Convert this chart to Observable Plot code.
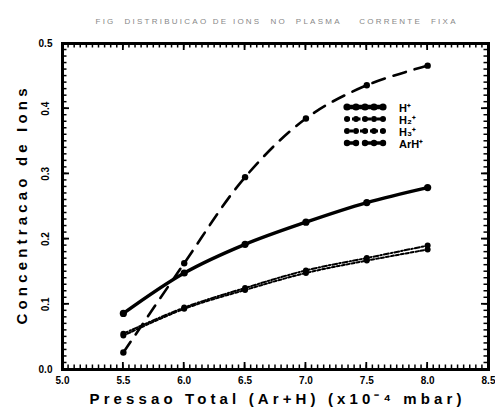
<!DOCTYPE html>
<html>
<head>
<meta charset="utf-8">
<script src="https://cdn.jsdelivr.net/npm/d3@7"></script>
<script src="https://cdn.jsdelivr.net/npm/@observablehq/plot@0.6"></script>
<style>
  html, body { margin: 0; padding: 0; background: #fff; }
  #wrap { position: relative; width: 495px; height: 414px; }
  #legend { position: absolute; left: 343px; top: 101px; font: bold 11px "Liberation Sans", Arial, sans-serif; }
</style>
</head>
<body>
<div id="wrap"></div>
<script>
// Pressure (x10^-4 mbar)
const pressure = [5.5, 6.0, 6.5, 7.0, 7.5, 8.0];
// Ion concentrations per series
const ionH1 = [0.086, 0.148, 0.192, 0.226, 0.256, 0.279];
const ionH2 = [0.055, 0.095, 0.125, 0.152, 0.171, 0.190];
const ionH3 = [0.052, 0.093, 0.122, 0.148, 0.167, 0.184];
const ionH4 = [0.026, 0.163, 0.295, 0.385, 0.436, 0.466];
const seriesNames = ["H\u207A", "H\u2082\u207A", "H\u2083\u207A", "ArH\u207A"];
const xTicks = [5.0, 5.5, 6.0, 6.5, 7.0, 7.5, 8.0, 8.5];
const yTicks = [0.0, 0.1, 0.2, 0.3, 0.4, 0.5];
const titleText = "FIG  DISTRIBUICAO DE IONS  NO  PLASMA    CORRENTE  FIXA";
const xLabel = "Pressao Total (Ar+H) (x10\u207B\u2074 mbar)";
const yLabel = "Concentracao de Ions";

const styles = [
  {stroke: 3.4, dash: null, r: 3.6},
  {stroke: 2, dash: "5,2,1.5,2", r: 3},
  {stroke: 2, dash: "3,2", r: 3},
  {stroke: 2.6, dash: "13,9", r: 3.2}
];
const allSeries = [ionH1, ionH2, ionH3, ionH4];
const rows = allSeries.flatMap((vals, si) => vals.map((v, i) => ({x: pressure[i], y: v, s: si})));

const minorX = d3.range(0, 71).map(i => +(5 + i * 0.05).toFixed(3));
const minorY = d3.range(0, 51).map(i => +(i * 0.01).toFixed(3));

const font = "Liberation Sans, Arial, sans-serif";
const marks = [];
allSeries.forEach((vals, si) => {
  const st = styles[si];
  const data = rows.filter(d => d.s === si);
  marks.push(Plot.line(data, {x: "x", y: "y", stroke: "black", strokeWidth: st.stroke, strokeDasharray: st.dash, curve: "catmull-rom"}));
  marks.push(Plot.dot(data, {x: "x", y: "y", r: st.r, fill: "black"}));
});

const chart = Plot.plot({
  width: 495,
  height: 414,
  marginLeft: 62,
  marginRight: 7,
  marginTop: 43,
  marginBottom: 45,
  style: {fontFamily: font, background: "white"},
  x: {domain: [5, 8.5], axis: null},
  y: {domain: [0, 0.5], axis: null},
  marks: [
    ...marks,
    Plot.text(xTicks, {x: d => d, frameAnchor: "bottom", dy: 14, text: d => d.toFixed(1), fontSize: 10, fontWeight: "bold", fill: "black", textAnchor: "middle"}),
    Plot.text(yTicks, {y: d => d, frameAnchor: "left", dx: -17, text: d => d.toFixed(1), fontSize: 10, fontWeight: "bold", fill: "black", textAnchor: "middle",
      rotate: d => (d === 0 || d === 0.5) ? 0 : -90}),
    Plot.frame({stroke: "black", strokeWidth: 3}),
    Plot.text([xLabel], {frameAnchor: "bottom", dy: 34, text: d => d, fontSize: 15, fontWeight: "bold", fill: "black", textAnchor: "middle", className: "xlab"}),
    Plot.text([yLabel], {frameAnchor: "left", dx: -40, rotate: -90, text: d => d, fontSize: 15, fontWeight: "bold", fill: "black", textAnchor: "middle", className: "ylab"}),
    Plot.text([titleText], {frameAnchor: "top", dy: -25, text: d => d, fontSize: 8, fill: "#888", textAnchor: "middle", className: "ttl"})
  ]
});

document.getElementById("wrap").appendChild(chart);

// inward ticks on all four sides, placed with Plot's own scales
const sx = chart.scale("x"), sy = chart.scale("y");
const X0 = sx.apply(5), X1 = sx.apply(8.5), Y0 = sy.apply(0), Y1 = sy.apply(0.5);
const g = d3.select(chart).append("g").attr("stroke", "black");
const addX = (vals, len, w) => vals.forEach(v => {
  const px = sx.apply(v);
  g.append("line").attr("x1", px).attr("x2", px).attr("y1", Y0).attr("y2", Y0 - len).attr("stroke-width", w);
  g.append("line").attr("x1", px).attr("x2", px).attr("y1", Y1).attr("y2", Y1 + len).attr("stroke-width", w);
});
const addY = (vals, len, w) => vals.forEach(v => {
  const py = sy.apply(v);
  g.append("line").attr("y1", py).attr("y2", py).attr("x1", X0).attr("x2", X0 + len).attr("stroke-width", w);
  g.append("line").attr("y1", py).attr("y2", py).attr("x1", X1).attr("x2", X1 - len).attr("stroke-width", w);
});
addX(minorX, 4.5, 1.5);
addX(xTicks, 7, 1.8);
addY(minorY, 4.5, 1.5);
addY(yTicks, 7, 1.8);

// stretch labels to the reference span
d3.select(chart).select(".xlab text").attr("textLength", 372).attr("lengthAdjust", "spacing");
d3.select(chart).select(".ylab text").attr("textLength", 236).attr("lengthAdjust", "spacing");
d3.select(chart).select(".ttl text").attr("textLength", 360).attr("lengthAdjust", "spacing");

// Legend (HTML overlay)
const legend = document.createElement("div");
legend.id = "legend";
const rowH = 12;
let html = "";
styles.forEach((st, i) => {
  html += `<div style="display:flex;align-items:center;height:${rowH}px">
    <svg width="44" height="${rowH}" style="display:block">
      <line x1="2" x2="42" y1="${rowH/2}" y2="${rowH/2}" stroke="black" stroke-width="${st.stroke + 1}" ${st.dash ? `stroke-dasharray="${st.dash}"` : ""}/>
      ${[4, 13, 22, 31, 40].map(cx => `<circle cx="${cx}" cy="${rowH/2}" r="${st.r}" fill="black"/>`).join("")}
    </svg>
    <span style="margin-left:12px">${seriesNames[i]}</span></div>`;
});
legend.innerHTML = html;
document.getElementById("wrap").appendChild(legend);
</script>
</body>
</html>
